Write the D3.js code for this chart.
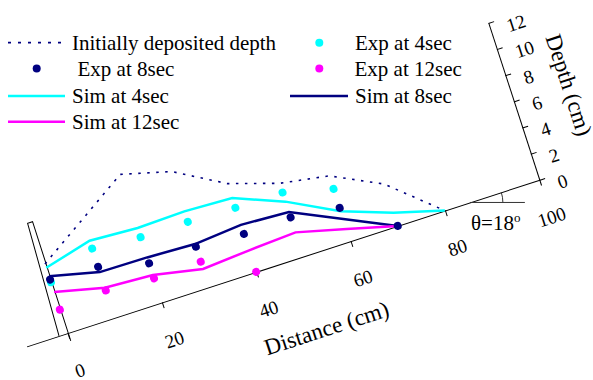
<!DOCTYPE html>
<html><head><meta charset="utf-8">
<script src="https://cdn.jsdelivr.net/npm/d3@7"></script>
<style>body{margin:0;background:#fff}svg{display:block}text{font-family:"Liberation Serif","Times New Roman",serif;fill:#000}</style>
</head><body><svg id="c" width="593" height="380"></svg>
<script>
// ---- data ----
const simDist = [0,10,20,30,40,50,60,70,80];
const initialDepth = [5.3,7.55,9.8,8.85,6.75,5.6,5.0,3.2,0];
const sim4 = [5.0,5.9,5.7,5.8,5.65,4.2,2.3,1.0,0];
const sim8Dist = [0,10,20,30,40,50,60,70];
const sim8 = [4.35,3.5,3.45,3.3,3.6,3.4,1.7,0];
const sim12Dist = [0,10,20,30,40,50,60,70];
const sim12 = [3.15,2.3,2.1,1.4,1.65,1.85,0.93,0];
const exp4Dist = [0,10,20,30,40,50,60];
const exp4 = [3.9,5.3,5.0,5.0,4.9,4.9,4.0];
const exp8Dist = [0,10,20,30,40,50,60,70];
const exp8 = [4.1,3.9,3.0,3.1,2.9,3.0,2.55,0];
const exp12Dist = [0,10,20,30,40];
const exp12 = [1.8,2.1,1.85,1.95,0];
const wallDist = [-1.8,-0.8,0.25,0.15];
const wallDepth = [0,8.5,8.5,-0.6];
const distTicks = [0,20,40,60,80,100];
const depthTicks = [0,2,4,6,8,10,12];
const xDomain = [-8.7,100];
const yDomain = [0,12];
const slopeDeg = 18;

const C_CYAN = "#00FFFF", C_NAVY = "#000080", C_MAG = "#FF00FF";

// ---- layout ----
const svg = d3.select("#c");
const O = [67.5, 333.2];
const pxPerCm = 4.96, pxPerDepth = 13.75;
const x = d3.scaleLinear().domain(xDomain).range(xDomain.map(v => v*pxPerCm));
const y = d3.scaleLinear().domain(yDomain).range(yDomain.map(v => -v*pxPerDepth));
const rad = slopeDeg*Math.PI/180;
function toScreen(fx, fy){ return [O[0] + fx*Math.cos(rad) + fy*Math.sin(rad), O[1] - fx*Math.sin(rad) + fy*Math.cos(rad)]; }

const g = svg.append("g").attr("transform", `translate(${O[0]},${O[1]}) rotate(${-slopeDeg})`);

// distance axis
const ax = g.append("g").call(d3.axisBottom(x).tickValues(distTicks).tickSize(6).tickSizeOuter(0));
ax.select(".domain").attr("stroke","#000");
ax.selectAll(".tick line").attr("stroke","#000");
ax.selectAll(".tick text").attr("y",39).attr("dy","0.35em").style("font-size","19px").style("font-family","Liberation Serif");
// depth axis
const ay = g.append("g").attr("transform",`translate(${x(100)},0)`).call(d3.axisRight(y).tickValues(depthTicks).tickSize(6).tickSizeOuter(0));
ay.select(".domain").attr("stroke","#000");
ay.selectAll(".tick line").attr("stroke","#000");
ay.selectAll(".tick text").attr("x",17).attr("y",8).attr("dy","0.35em").style("font-size","19px").style("font-family","Liberation Serif");

// titles
g.append("text").attr("x", x(50)).attr("y", 75).attr("dy","0.35em").attr("text-anchor","middle").style("font-size","23px").text("Distance (cm)");
g.append("text").attr("transform",`translate(${x(100)+58},${y(5.9)}) rotate(90)`).attr("dy","0.35em").attr("text-anchor","middle").style("font-size","23px").text("Depth (cm)");

// wall
const line = d3.line().x(d => x(d[0])).y(d => y(d[1]));
g.append("path").attr("d", line(d3.zip(wallDist, wallDepth))).attr("fill","none").attr("stroke","#000").attr("stroke-width",1);

// lines
g.append("path").attr("d", line(d3.zip(simDist, initialDepth))).attr("fill","none").attr("stroke",C_NAVY).attr("stroke-width",1.6).attr("stroke-dasharray","2.5,6.5");
g.append("path").attr("d", line(d3.zip(simDist, sim4))).attr("fill","none").attr("stroke",C_CYAN).attr("stroke-width",2.5);
g.append("path").attr("d", line(d3.zip(sim8Dist, sim8))).attr("fill","none").attr("stroke",C_NAVY).attr("stroke-width",2.5);
g.append("path").attr("d", line(d3.zip(sim12Dist, sim12))).attr("fill","none").attr("stroke",C_MAG).attr("stroke-width",2.5);

// dots
function dots(ds, vs, col){
  g.append("g").selectAll("circle").data(d3.zip(ds, vs)).join("circle")
    .attr("cx", d => x(d[0])).attr("cy", d => y(d[1])).attr("r", 4).attr("fill", col);
}
dots(exp4Dist, exp4, C_CYAN);
dots(exp12Dist, exp12, C_MAG);
dots(exp8Dist, exp8, C_NAVY);

// angle annotation
const A = toScreen(x(85.3), 0);
const ann = svg.append("g").attr("transform",`translate(${A[0]},${A[1]})`);
ann.append("line").attr("x1",0).attr("y1",0).attr("x2",55).attr("y2",0).attr("stroke","#333").attr("stroke-width",1);
const r = 33;
ann.append("path").attr("d",`M${r},0 A${r},${r} 0 0 0 ${r*Math.cos(rad)},${-r*Math.sin(rad)}`).attr("fill","none").attr("stroke","#333").attr("stroke-width",1);
const tt = svg.append("text").attr("x",471).attr("y",229.5).style("font-size","21px");
tt.append("tspan").text("\u03B8=18");
tt.append("tspan").attr("dy",-8).style("font-size","13px").text("o");

// legend
const L = svg.append("g");
const rows = [42.7, 68.5, 96, 121.7];
function legLine(x1, x2, yy, col, dash, w){
  L.append("line").attr("x1",x1).attr("x2",x2).attr("y1",yy).attr("y2",yy).attr("stroke",col).attr("stroke-width",w).attr("stroke-dasharray",dash||null);
}
function legDot(cx, yy, col){ L.append("circle").attr("cx",cx).attr("cy",yy).attr("r",4).attr("fill",col); }
function legText(tx, yy, s){ L.append("text").attr("x",tx).attr("y",yy+7).style("font-size","21px").text(s); }
legLine(8,64,rows[0],C_NAVY,"3,7",1.8); legText(72,rows[0],"Initially deposited depth");
legDot(319.3,rows[0],C_CYAN); legText(355,rows[0],"Exp at 4sec");
legDot(36.7,rows[1],C_NAVY); legText(77.5,rows[1],"Exp at 8sec");
legDot(319.3,rows[1],C_MAG); legText(354.5,rows[1],"Exp at 12sec");
legLine(8,65,rows[2],C_CYAN,null,2.5); legText(72,rows[2],"Sim at 4sec");
legLine(290,348,rows[2],C_NAVY,null,2.5); legText(355,rows[2],"Sim at 8sec");
legLine(8,65,rows[3],C_MAG,null,2.5); legText(72,rows[3],"Sim at 12sec");
</script></body></html>
